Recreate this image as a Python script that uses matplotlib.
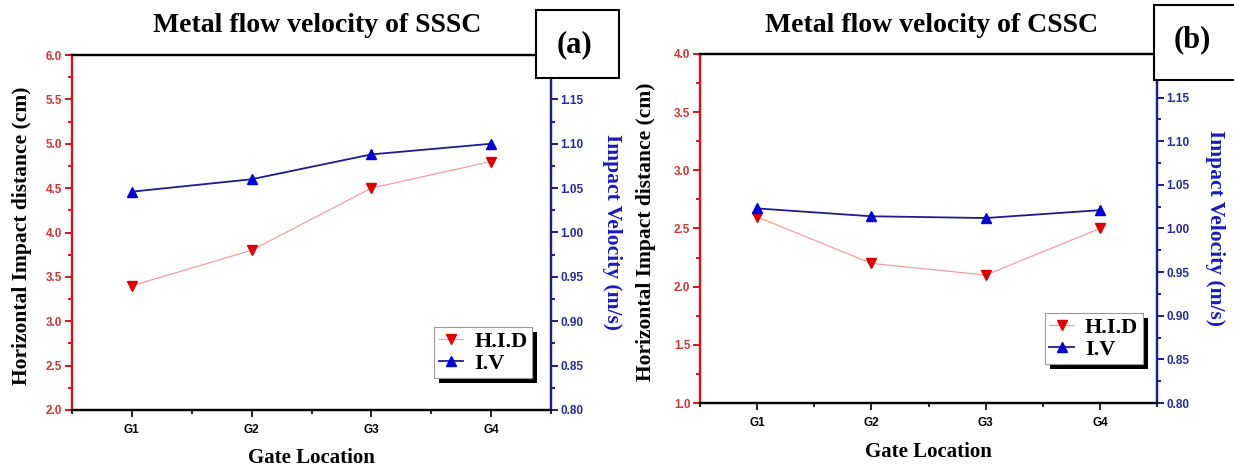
import matplotlib
matplotlib.use("Agg")
import matplotlib.pyplot as plt
from matplotlib.patches import Rectangle
from matplotlib.ticker import MultipleLocator, FixedLocator, FormatStrFormatter
from matplotlib.transforms import IdentityTransform

# ---------------- data ----------------
gates = ["G1", "G2", "G3", "G4"]
sssc_hid = [3.4, 3.8, 4.5, 4.8]
sssc_iv = [1.046, 1.060, 1.088, 1.100]
cssc_hid = [2.6, 2.2, 2.1, 2.5]
cssc_iv = [1.023, 1.014, 1.012, 1.021]

titles = ["Metal flow velocity of SSSC", "Metal flow velocity of CSSC"]
panel_tags = ["(a)", "(b)"]
left_label = "Horizontal Impact distance (cm)"
right_label = "Impact Velocity (m/s)"
x_label = "Gate Location"
legend_names = ["H.I.D", "I.V"]

SERIF = "Liberation Serif"
SANS = "Liberation Sans"
RED = "#d01818"
RED_TXT = "#d03535"
RED_LINE = "#f2a0a0"
RED_MK = "#e00000"
BLUE = "#1c1c8e"
BLUE_TXT = "#2a2a9a"
BLUE_MK = "#0000d8"
BLUE_LAB = "#1a1ac0"

W, H = 1234, 472
fig = plt.figure(figsize=(W / 100, H / 100), dpi=100)


def fx(px):
    return px / W


def fy(py):
    return 1 - py / H


def make_panel(box, hid, iv, ylim, title, title_x, tag, tag_box, tag_xy,
               llab_x, rlab_x, xlab_y, leg_anchor):
    x0, y0, x1, y1 = box  # pixel coordinates
    ax = fig.add_axes([fx(x0), fy(y1), fx(x1 - x0), (y1 - y0) / H])
    ax2 = ax.twinx()
    xs = list(range(1, len(gates) + 1))

    l1, = ax.plot(xs, hid, color=RED_LINE, lw=0.9, marker="v", ms=7,
                  mfc=RED_MK, mec=RED_MK, label=legend_names[0], zorder=3)
    l2, = ax2.plot(xs, iv, color=BLUE, lw=1.3, marker="^", ms=7,
                   mfc=BLUE_MK, mec=BLUE_MK, label=legend_names[1], zorder=3)

    ax.set_xlim(0.5, 4.5)
    ax.set_ylim(*ylim)
    ax2.set_ylim(0.80, 1.20)

    ax.xaxis.set_major_locator(FixedLocator(xs))
    ax.set_xticklabels(gates)
    ax.xaxis.set_minor_locator(FixedLocator([0.5, 1.5, 2.5, 3.5, 4.5]))
    ax.yaxis.set_major_locator(MultipleLocator(0.5))
    ax.yaxis.set_minor_locator(MultipleLocator(0.25))
    ax2.yaxis.set_major_locator(FixedLocator([0.80, 0.85, 0.90, 0.95, 1.00, 1.05, 1.10, 1.15]))
    ax2.yaxis.set_minor_locator(MultipleLocator(0.025))
    ax.yaxis.set_major_formatter(FormatStrFormatter("%.1f"))
    ax2.yaxis.set_major_formatter(FormatStrFormatter("%.2f"))

    for a in (ax, ax2):
        for s in a.spines.values():
            s.set_linewidth(1.6)
        a.spines["top"].set_color("black")
        a.spines["bottom"].set_color("black")
        a.spines["left"].set_color(RED)
        a.spines["right"].set_color(BLUE)

    ax.tick_params(axis="y", which="both", direction="out", colors=RED,
                   labelcolor=RED_TXT, width=1.4)
    ax.tick_params(axis="y", which="major", length=5, labelsize=8.5, pad=2)
    ax.tick_params(axis="y", which="minor", length=3)
    ax2.tick_params(axis="y", which="both", direction="out", colors=BLUE,
                    labelcolor=BLUE_TXT, width=1.4)
    ax2.tick_params(axis="y", which="major", length=5, labelsize=8.5, pad=2)
    ax2.tick_params(axis="y", which="minor", length=3)
    ax.tick_params(axis="x", which="both", direction="out", colors="black", width=1.2)
    ax.tick_params(axis="x", which="major", length=5, labelsize=8.5, pad=5)
    ax.tick_params(axis="x", which="minor", length=3)
    for lab in ax.get_yticklabels() + ax2.get_yticklabels() + ax.get_xticklabels():
        lab.set_fontfamily(SANS)
        lab.set_fontweight("bold")

    ax.set_ylabel(left_label, fontfamily=SERIF, fontweight="bold", fontsize=15.5,
                  color="black", va="center", ha="center", rotation_mode="default")
    ax.yaxis.set_label_coords(llab_x, 0.49)
    ax2.set_ylabel(right_label, fontfamily=SERIF, fontweight="bold", fontsize=15.5,
                   color=BLUE_LAB, rotation=-90, va="center", ha="center",
                   rotation_mode="default")
    ax2.yaxis.set_label_coords(rlab_x, 0.5)
    ax.set_xlabel(x_label, fontfamily=SERIF, fontweight="bold", fontsize=15,
                  va="center")
    ax.xaxis.set_label_coords(0.5, xlab_y)

    fig.text(fx(title_x), fy(26), title, fontfamily=SERIF, fontweight="bold",
             fontsize=20, ha="center", va="center")

    leg = ax2.legend(handles=[l1, l2], loc="upper left", bbox_to_anchor=leg_anchor,
                     borderaxespad=0, prop={"family": SERIF, "weight": "bold", "size": 16},
                     frameon=True, fancybox=False, handlelength=1.1, handletextpad=0.5,
                     labelspacing=0.05, borderpad=0.2)
    leg.get_frame().set_edgecolor("#999999")
    leg.get_frame().set_linewidth(0.8)
    leg.get_frame().set_alpha(1)
    leg.set_zorder(6)

    # tag box
    bx0, by0, bx1, by1 = tag_box
    fig.add_artist(Rectangle((fx(bx0), fy(by1)), fx(bx1 - bx0), (by1 - by0) / H,
                             transform=fig.transFigure, facecolor="white",
                             edgecolor="black", lw=1.5, zorder=5))
    fig.text(fx(tag_xy[0]), fy(tag_xy[1]), tag, fontfamily=SERIF,
             fontweight="bold", fontsize=22, ha="center", va="center", zorder=6)
    return ax, ax2, leg


panels = []
panels.append(make_panel((72, 55, 551, 410), sssc_hid, sssc_iv, (2.0, 6.0), titles[0], 317,
                         panel_tags[0], (536, 10, 619, 78), (574, 45),
                         -0.104, 1.128, -0.135, (0.756, 0.234)))
panels.append(make_panel((700, 54, 1157, 403), cssc_hid, cssc_iv, (1.0, 4.0), titles[1], 932,
                         panel_tags[1], (1154, 5, 1240, 80), (1192, 40),
                         -0.118, 1.127, -0.14, (0.755, 0.258)))

# drop shadows under the legends
fig.canvas.draw()
for ax, ax2, leg in panels:
    bb = leg.get_frame().get_window_extent()
    sh = Rectangle((bb.x0 + 5, bb.y0 - 5), bb.width, bb.height, transform=IdentityTransform(),
                   facecolor="black", edgecolor="none", zorder=5.5, clip_on=False)
    ax2.add_artist(sh)

fig.savefig("out.png", dpi=100)
